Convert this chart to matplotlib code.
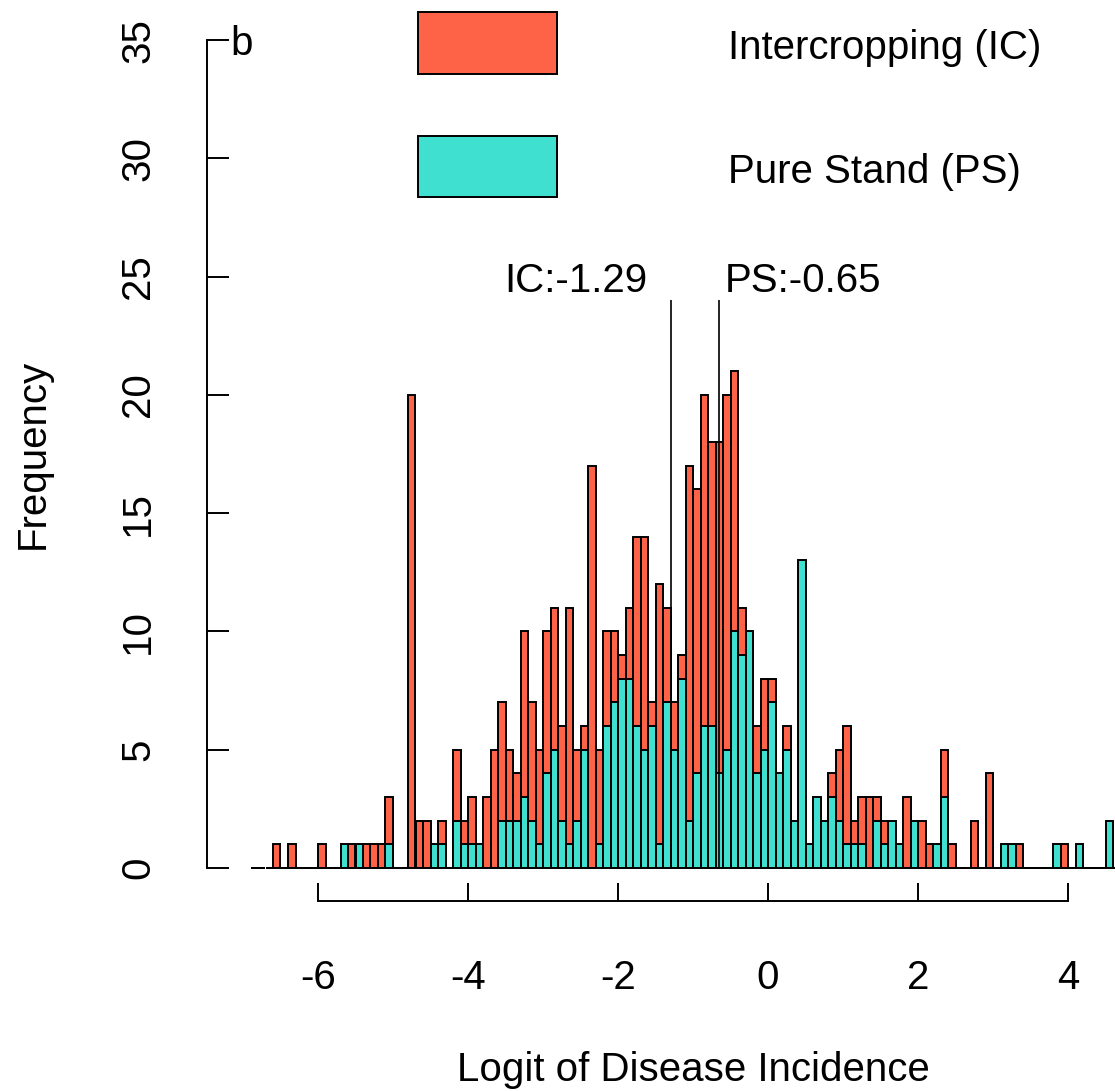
import matplotlib
matplotlib.use("Agg")
import matplotlib.pyplot as plt
import numpy as np
from matplotlib.patches import Rectangle

plt.rcParams['font.family'] = ['Liberation Sans', 'DejaVu Sans']
plt.rcParams['axes.unicode_minus'] = False

# ---------------- data ----------------
bin_start = -6.9
bin_width = 0.1
# counts per 0.1-wide bin, starting at -6.9 (last bin 4.6-4.7)
ic_counts = [
    0, 0, 0, 1, 0, 1, 0, 0, 0, 1,        # -6.9 .. -6.0
    0, 0, 0, 1, 0, 1, 1, 1, 3, 0,        # -5.9 .. -5.0
    0, 20, 2, 2, 0, 2, 0, 5, 2, 3,       # -4.9 .. -4.0
    0, 3, 5, 7, 5, 4, 10, 7, 5, 10,      # -3.9 .. -3.0
    11, 6, 11, 5, 6, 17, 5, 10, 10, 9,   # -2.9 .. -2.0
    11, 14, 14, 7, 12, 11, 7, 9, 17, 16, # -1.9 .. -1.0
    20, 18, 18, 20, 21, 11, 0, 6, 8, 8,  # -0.9 .. 0.0
    0, 6, 0, 0, 0, 0, 0, 4, 5, 6,        # 0.1 .. 1.0
    2, 3, 3, 3, 2, 0, 0, 3, 0, 2,        # 1.1 .. 2.0
    1, 0, 5, 1, 0, 0, 2, 0, 4, 0,        # 2.1 .. 3.0
    0, 0, 1, 0, 0, 0, 0, 0, 1, 0,        # 3.1 .. 4.0
    0, 0, 0, 0, 0, 0,                    # 4.1 .. 4.6
]
ps_counts = [
    0, 0, 0, 0, 0, 0, 0, 0, 0, 0,        # -6.9 .. -6.0
    0, 0, 1, 0, 1, 0, 0, 0, 1, 0,        # -5.9 .. -5.0
    0, 0, 0, 0, 1, 1, 0, 2, 1, 1,        # -4.9 .. -4.0
    1, 0, 0, 2, 2, 2, 3, 2, 1, 4,        # -3.9 .. -3.0
    5, 2, 1, 2, 5, 0, 1, 6, 7, 8,        # -2.9 .. -2.0
    8, 6, 5, 6, 1, 7, 5, 8, 2, 4,        # -1.9 .. -1.0
    6, 6, 4, 5, 10, 9, 10, 4, 5, 7,      # -0.9 .. 0.0
    4, 5, 2, 13, 1, 3, 2, 3, 2, 1,       # 0.1 .. 1.0
    1, 1, 0, 2, 1, 2, 1, 0, 2, 0,        # 1.1 .. 2.0
    0, 1, 3, 0, 0, 0, 0, 0, 0, 0,        # 2.1 .. 3.0
    1, 1, 0, 0, 0, 0, 0, 1, 0, 0,        # 3.1 .. 4.0
    1, 0, 0, 0, 2, 0,                    # 4.1 .. 4.6
]
ic_mean = -1.29
ps_mean = -0.65
series_labels = ["Intercropping (IC)", "Pure Stand (PS)"]
x_ticks = [-6, -4, -2, 0, 2, 4]
x_tick_labels = ["-6", "-4", "-2", "0", "2", "4"]
y_ticks = [0, 5, 10, 15, 20, 25, 30, 35]
y_tick_labels = ["0", "5", "10", "15", "20", "25", "30", "35"]

IC_COLOR = "#FF6347"
PS_COLOR = "#40E0D0"
FS = 29

# ---------------- figure ----------------
W, H = 1115, 1091
fig = plt.figure(figsize=(W / 100, H / 100), dpi=100)
left_px, right_px, top_px, bottom_px = 207, 1179, 7, 901
ax = fig.add_axes([left_px / W, (H - bottom_px) / H,
                   (right_px - left_px) / W, (bottom_px - top_px) / H])
ax.set_xlim(-7.48, 5.48)
ax.set_ylim(-1.4, 36.4)

lefts = bin_start + bin_width * np.arange(len(ic_counts))
ax.bar(lefts, ic_counts, width=bin_width, align='edge', color=IC_COLOR,
       edgecolor='black', linewidth=1.4, zorder=2)
ax.bar(lefts, ps_counts, width=bin_width, align='edge', color=PS_COLOR,
       edgecolor='black', linewidth=1.4, zorder=3)

# mean lines and labels
ax.vlines([ic_mean, ps_mean], 0, 24, color='black', linewidth=1.2, zorder=4)
ax.annotate(f"IC:{ic_mean:.2f}", xy=(ic_mean, 24.33), xytext=(-24, 0),
            textcoords='offset pixels', ha='right', va='baseline', fontsize=FS)
ax.annotate(f"PS:{ps_mean:.2f}", xy=(ps_mean, 24.33), xytext=(6, 0),
            textcoords='offset pixels', ha='left', va='baseline', fontsize=FS)

# legend (drawn R-style: large boxes with text to the right)
for (yb, yt, col, lab, ty) in [(33.57, 36.19, IC_COLOR, series_labels[0], 34.67),
                               (28.37, 30.95, PS_COLOR, series_labels[1], 29.43)]:
    ax.add_patch(Rectangle((-4.667, yb), 1.853, yt - yb, facecolor=col,
                           edgecolor='black', linewidth=1.4, clip_on=False, zorder=5))
    ax.text(-0.53, ty, lab, ha='left', va='center', fontsize=FS)

# panel letter
ax.text(-7.173, 34.38, "b", ha='left', va='baseline', fontsize=FS)

# axes styling (R-like detached axes with inward ticks)
for s in ['top', 'right']:
    ax.spines[s].set_visible(False)
ax.spines['left'].set_bounds(0, 35)
ax.spines['bottom'].set_bounds(-6, 4)
for s in ['left', 'bottom']:
    ax.spines[s].set_linewidth(1.4)

ax.set_xticks(x_ticks)
ax.set_xticklabels(x_tick_labels)
ax.set_yticks(y_ticks)
ax.set_yticklabels(y_tick_labels, rotation=90, va='center', ha='right')
ax.tick_params(axis='x', direction='in', length=13, width=1.4, labelsize=FS, pad=42)
ax.tick_params(axis='y', direction='in', length=16, width=1.4, labelsize=FS, pad=36)

ax.set_xlabel("Logit of Disease Incidence", fontsize=FS)
ax.xaxis.set_label_coords(0.5, -0.168)
ax.set_ylabel("Frequency", fontsize=FS)
ax.yaxis.set_label_coords(-0.160, 0.5)

fig.savefig("out.png", dpi=100)
